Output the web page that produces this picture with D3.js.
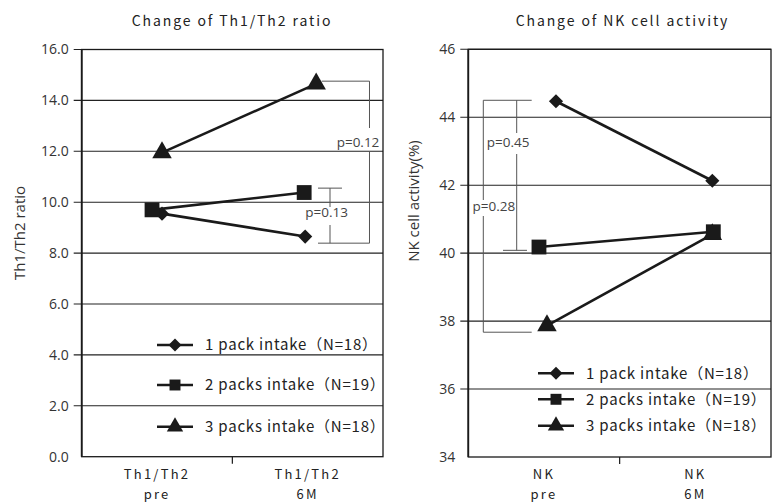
<!DOCTYPE html>
<html>
<head>
<meta charset="utf-8">
<script src="https://cdn.jsdelivr.net/npm/d3@7/dist/d3.min.js"></script>
<style>
  body { margin: 0; background: #fff; }
  svg { display: block; }
</style>
</head>
<body>
<div id="chart"></div>
<script>
// ---- data ----
var seriesNames = ["1 pack intake（N=18）", "2 packs intake（N=19）", "3 packs intake（N=18）"];

var th1CatTop = ["Th1/Th2", "Th1/Th2"];
var th1CatBottom = ["pre", "6M"];
var th1Pack1 = [9.55, 8.65];
var th1Pack2 = [9.7, 10.38];
var th1Pack3 = [11.95, 14.65];
var th1Ticks = [0, 2, 4, 6, 8, 10, 12, 14, 16];
var th1PLabels = ["p=0.13", "p=0.12"];

var nkCatTop = ["NK", "NK"];
var nkCatBottom = ["pre", "6M"];
var nkPack1 = [44.47, 42.13];
var nkPack2 = [40.18, 40.63];
var nkPack3 = [37.87, 40.55];
var nkTicks = [34, 36, 38, 40, 42, 44, 46];
var nkPLabels = ["p=0.28", "p=0.45"];

// ---- layout ----
var W = 779, H = 503;
var ink = "#1a1a1a";

var panels = [
  {
    title: "Change of Th1/Th2 ratio", yLabel: "Th1/Th2 ratio",
    x0: 81.7, x1: 383, y0: 49.5, y1: 456.7,
    yLabelPos: [25, 233], titleX: 232,
    ticks: th1Ticks, fmt: d3.format(".1f"),
    catTop: th1CatTop, catBottom: th1CatBottom,
    values: [th1Pack1, th1Pack2, th1Pack3],
    nudge: [[5, -2.5], [-5, -3.5], [5, 8.5]],
    legend: { x: 75.3, y: [345, 385, 426.7] },
    // brackets: series/category pairs, px offsets, x positions relative to plot
    brackets: [
      { label: th1PLabels[0], top: [1, 1, -4.4], bot: [0, 1, 6.6], vx: 248.3, topX: [236.3, 260.3], botX: [236.3, 287.8], gap: [207, 225], lx: 245, ly: 212 },
      { label: th1PLabels[1], top: [2, 1, -2.7], bot: [0, 1, 6.6], vx: 287.8, topX: [240, 287.8], botX: null, gap: [128, 151], lx: 276.3, ly: 142.5 }
    ]
  },
  {
    title: "Change of NK cell activity", yLabel: "NK cell activity(%)",
    x0: 468.3, x1: 771, y0: 49.3, y1: 457,
    yLabelPos: [419, 201], titleX: 622.5,
    ticks: nkTicks, fmt: d3.format("d"),
    catTop: nkCatTop, catBottom: nkCatBottom,
    values: [nkPack1, nkPack2, nkPack3],
    nudge: [[12, 17], [-5, 18], [3, 17]],
    legend: { x: 69.7, y: [373.3, 399.3, 425.7] },
    brackets: [
      { label: nkPLabels[0], top: [0, 0, -1], bot: [2, 0, 6.7], vx: 15, topX: null, botX: [15, 63.4], gap: [200, 216], lx: 25.5, ly: 206.7 },
      { label: nkPLabels[1], top: [0, 0, -1], bot: [1, 0, 3.3], vx: 48.4, topX: [15, 63.4], botX: [34.7, 58.7], gap: [133, 154], lx: 39.8, ly: 142.7 }
    ]
  }
];

var symbols = [
  { type: d3.symbolSquare, size: 100, rot: 45, legendSize: 85 },
  { type: d3.symbolSquare, size: 220, rot: 0, legendSize: 120 },
  { type: d3.symbolTriangle, size: 165, rot: 0, legendSize: 115 }
];

var svg = d3.select("#chart").append("svg")
  .attr("width", W)
  .attr("height", H);

panels.forEach(function(p) {
  var width = p.x1 - p.x0, height = p.y1 - p.y0;
  var g = svg.append("g").attr("transform", "translate(" + p.x0 + "," + p.y0 + ")");

  var y = d3.scaleLinear()
    .domain(d3.extent(p.ticks))
    .range([height, 0]);
  var x = d3.scaleBand()
    .domain(d3.range(p.catTop.length))
    .range([0, width]);
  var cx = function(i) { return x(i) + x.bandwidth() / 2; };

  // gridlines, extended left as tick marks
  g.selectAll(".grid")
    .data(p.ticks.filter(function(t) { return t > p.ticks[0]; }))
    .enter().append("line")
    .attr("x1", -8).attr("x2", width)
    .attr("y1", function(d) { return y(d); })
    .attr("y2", function(d) { return y(d); })
    .attr("stroke", "#222").attr("stroke-width", 1.1);

  // y axis labels
  var ax = g.append("g")
    .call(d3.axisLeft(y).tickValues(p.ticks).tickFormat(p.fmt).tickSize(0).tickPadding(13));
  ax.select(".domain").remove();
  ax.selectAll("text")
    .attr("font-family", "'Open Sans', sans-serif")
    .attr("font-size", "14px")
    .attr("fill", "#333");

  // frame
  g.append("rect")
    .attr("width", width).attr("height", height)
    .attr("fill", "none").attr("stroke", ink).attr("stroke-width", 1.3);
  g.append("line")
    .attr("x1", 0).attr("x2", 0).attr("y1", 0).attr("y2", height)
    .attr("stroke", ink).attr("stroke-width", 1.8);

  // x axis middle tick
  d3.range(1, p.catTop.length).forEach(function(i) {
    g.append("line")
      .attr("x1", x(i)).attr("x2", x(i))
      .attr("y1", height).attr("y2", height + 7)
      .attr("stroke", ink).attr("stroke-width", 1.2);
  });

  // category labels (two lines each)
  p.catTop.forEach(function(c, i) {
    [[c, 479], [p.catBottom[i], 499]].forEach(function(row) {
      g.append("text")
        .attr("x", cx(i)).attr("y", row[1] - p.y0)
        .attr("text-anchor", "middle")
        .attr("font-family", "'Noto Sans CJK JP', sans-serif")
        .attr("font-size", "13px").attr("fill", "#222")
        .attr("letter-spacing", "2.2px")
        .text(row[0]);
    });
  });

  // title
  svg.append("text")
    .attr("x", p.titleX).attr("y", 26)
    .attr("text-anchor", "middle")
    .attr("font-family", "'Noto Sans CJK JP', sans-serif")
    .attr("font-size", "14px").attr("fill", "#222")
    .attr("letter-spacing", "1.9px")
    .text(p.title);

  // y title
  svg.append("text")
    .attr("transform", "translate(" + p.yLabelPos[0] + "," + p.yLabelPos[1] + ") rotate(-90)")
    .attr("text-anchor", "middle")
    .attr("font-family", "'Open Sans', sans-serif")
    .attr("font-size", "15px").attr("fill", "#333")
    .text(p.yLabel);

  var mx = function(s, i) { return cx(i) + p.nudge[s][i]; };

  // significance brackets
  p.brackets.forEach(function(b) {
    var yt = y(p.values[b.top[0]][b.top[1]]) + b.top[2];
    var yb = y(p.values[b.bot[0]][b.bot[1]]) + b.bot[2];
    var bg = g.append("g").attr("stroke", "#555").attr("stroke-width", 1).attr("fill", "none");
    var gt = b.gap[0] - p.y0, gb = b.gap[1] - p.y0;
    bg.append("line").attr("x1", b.vx).attr("x2", b.vx).attr("y1", yt).attr("y2", gt);
    bg.append("line").attr("x1", b.vx).attr("x2", b.vx).attr("y1", gb).attr("y2", yb);
    if (b.topX) bg.append("line").attr("x1", b.topX[0]).attr("x2", b.topX[1]).attr("y1", yt).attr("y2", yt);
    if (b.botX) bg.append("line").attr("x1", b.botX[0]).attr("x2", b.botX[1]).attr("y1", yb).attr("y2", yb);
    g.append("text")
      .attr("x", b.lx).attr("y", b.ly - p.y0)
      .attr("dy", "0.35em")
      .attr("text-anchor", "middle")
      .attr("font-family", "'Open Sans', sans-serif")
      .attr("font-size", "13.5px").attr("fill", "#444")
      .text(b.label);
  });

  // series lines
  var line = d3.line()
    .x(function(d) { return d.x; })
    .y(function(d) { return d.y; });
  p.values.forEach(function(vals, s) {
    var pts = vals.map(function(v, i) { return { x: mx(s, i), y: y(v) }; });
    g.append("path")
      .attr("d", line(pts))
      .attr("fill", "none").attr("stroke", ink).attr("stroke-width", 2.6);
  });

  // markers (squares on top)
  [2, 0, 1].forEach(function(s) {
    var sym = symbols[s];
    g.selectAll(".m" + s)
      .data(p.values[s])
      .enter().append("path")
      .attr("d", d3.symbol().type(sym.type).size(sym.size))
      .attr("transform", function(d, i) {
        return "translate(" + mx(s, i) + "," + y(d) + ") rotate(" + sym.rot + ")";
      })
      .attr("fill", ink);
  });

  // legend
  seriesNames.forEach(function(name, s) {
    var ly = p.legend.y[s] - p.y0, lx = p.legend.x;
    var sym = symbols[s];
    g.append("line")
      .attr("x1", lx).attr("x2", lx + 36).attr("y1", ly).attr("y2", ly)
      .attr("stroke", ink).attr("stroke-width", 2.6);
    g.append("path")
      .attr("d", d3.symbol().type(sym.type).size(sym.legendSize))
      .attr("transform", "translate(" + (lx + 18) + "," + ly + ") rotate(" + sym.rot + ")")
      .attr("fill", ink);
    g.append("text")
      .attr("x", lx + 48).attr("y", ly).attr("dy", "0.36em")
      .attr("font-family", "'Noto Sans CJK JP', sans-serif")
      .attr("font-size", "15px").attr("fill", "#222")
      .attr("letter-spacing", "0.8px")
      .text(name);
  });
});
</script>
</body>
</html>
